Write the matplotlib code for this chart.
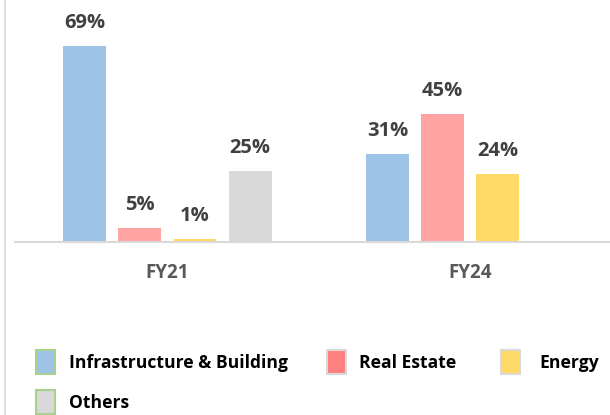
import matplotlib
matplotlib.use("Agg")
import matplotlib.pyplot as plt
from matplotlib.patches import Rectangle
from matplotlib.lines import Line2D
import numpy as np

categories = ["FY21", "FY24"]
series_names = ["Infrastructure & Building", "Real Estate", "Energy", "Others"]
infra = [69, 31]
real_estate = [5, 45]
energy = [1, 24]
others = [25, 0]
values = [infra, real_estate, energy, others]

bar_colors = ["#9DC3E6", "#FFA3A3", "#FFD966", "#D9D9D9"]
legend_colors = ["#9DC3E6", "#FF8080", "#FFD966", "#D9D9D9"]
legend_edges = ["#A9D18E", "#D9D9D9", "#D9D9D9", "#A9D18E"]

FONT = ['Open Sans', 'DejaVu Sans']
plt.rcParams['font.family'] = FONT
plt.rcParams['font.weight'] = 'bold'

W, H = 610, 415
fig = plt.figure(figsize=(W / 100, H / 100), dpi=100)
ax = fig.add_axes([15 / W, 173 / H, 595 / W, 242 / H])

x = np.arange(len(categories))
width = 0.142
step = 0.182
for i, (name, vals) in enumerate(zip(series_names, values)):
    off = (i - 1.5) * step
    bars = ax.bar(x + off, vals, width, color=bar_colors[i], label=name)
    labels = [f"{v}%" if v > 0 else "" for v in vals]
    ax.bar_label(bars, labels=labels, padding=9.5, fontsize=14.5, fontweight='bold', color="#404040")

ax.set_xlim(-0.504, 1.463)
ax.set_ylim(0, 85.2)
ax.set_xticks(x)
ax.set_xticklabels(categories, fontsize=13.5, fontweight='bold', color="#595959")
ax.tick_params(axis='x', length=0, pad=15)
ax.set_yticks([])
for s in ["top", "right", "left"]:
    ax.spines[s].set_visible(False)
ax.spines["bottom"].set_color("#D9D9D9")
ax.spines["bottom"].set_linewidth(1.5)

# left border line
fig.add_artist(Line2D([4.5 / W, 4.5 / W], [0, 1], color="#D9D9D9", lw=1.2, transform=fig.transFigure))

# legend drawn manually
legend_pos = [(36, 350, 69), (327, 350, 359), (501, 350, 539), (36, 390, 69)]
for (mx, my, tx), name, fc, ec in zip(legend_pos, series_names, legend_colors, legend_edges):
    fig.add_artist(Rectangle((mx / W, 1 - (my + 24) / H), 19 / W, 24 / H, facecolor=fc,
                             edgecolor=ec, lw=1.5, transform=fig.transFigure))
    fig.text(tx / W, 1 - (my + 13) / H, name, fontsize=12.6, fontweight='bold', color="#000000",
             ha='left', va='center')

fig.savefig("out.png", dpi=100)
